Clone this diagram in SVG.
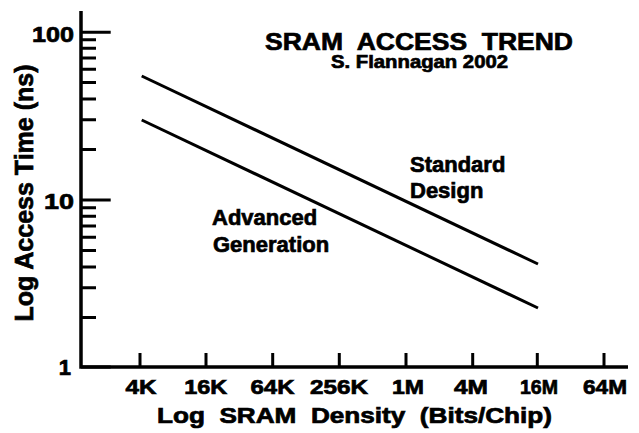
<svg xmlns="http://www.w3.org/2000/svg" width="639" height="433" viewBox="0 0 639 433">
<style>
text{font-family:"Liberation Sans",Arial,sans-serif;font-weight:bold;fill:#000;stroke:#000;stroke-width:0.7}
.ax{stroke:#000;stroke-width:3.5;fill:none}
.tk{stroke:#000;stroke-width:3;fill:none}
.ln{stroke:#000;stroke-width:3;fill:none}
.tl{font-size:20px;text-anchor:middle}
.yl{font-size:22px;text-anchor:end}
</style>
<rect width="639" height="433" fill="#fff"/>
<g id="axes">
<path class="ax" d="M81,11 V367 H628"/>
</g>
<g id="y-ticks">
<path class="tk" d="M81,32.3H110.7 M81,200H110.7 M81,367H110.7"/>
<path class="tk" d="M81,39.7H96 M81,48.3H96 M81,58H96 M81,69.3H96 M81,82.6H96 M81,98.9H96 M81,119.8H96 M81,149.4H96"/>
<path class="tk" d="M81,207.7H96 M81,216.3H96 M81,226H96 M81,237.3H96 M81,250.6H96 M81,266.9H96 M81,287.8H96 M81,317.4H96"/>
</g>
<g id="y-labels">
<text class="yl" x="74" y="42" textLength="42" lengthAdjust="spacingAndGlyphs">100</text>
<text class="yl" x="74" y="209" textLength="30" lengthAdjust="spacingAndGlyphs">10</text>
<text class="yl" x="71" y="375">1</text>
</g>
<g id="x-ticks">
<path class="tk" d="M140,353V367 M206,353V367 M272.7,353V367 M339.3,353V367 M406,353V367 M472.7,353V367 M537.3,353V367 M604,353V367"/>
</g>
<g id="x-labels">
<text class="tl" x="141" y="394" textLength="31" lengthAdjust="spacingAndGlyphs">4K</text>
<text class="tl" x="205.7" y="394" textLength="43" lengthAdjust="spacingAndGlyphs">16K</text>
<text class="tl" x="272.5" y="394" textLength="44" lengthAdjust="spacingAndGlyphs">64K</text>
<text class="tl" x="339" y="394" textLength="58" lengthAdjust="spacingAndGlyphs">256K</text>
<text class="tl" x="408" y="394" textLength="32" lengthAdjust="spacingAndGlyphs">1M</text>
<text class="tl" x="471" y="394" textLength="34" lengthAdjust="spacingAndGlyphs">4M</text>
<text class="tl" x="539" y="394" textLength="38" lengthAdjust="spacingAndGlyphs">16M</text>
<text class="tl" x="605" y="394" textLength="44" lengthAdjust="spacingAndGlyphs">64M</text>
</g>
<g id="x-title">
<text x="157" y="423" font-size="22" textLength="395" lengthAdjust="spacingAndGlyphs" xml:space="preserve">Log  SRAM  Density  (Bits/Chip)</text>
</g>
<g id="y-title">
<text transform="translate(33,193) rotate(-90)" font-size="25" text-anchor="middle">Log Access Time (ns)</text>
</g>
<g id="title">
<text x="265" y="50" font-size="24" textLength="308" lengthAdjust="spacingAndGlyphs" xml:space="preserve">SRAM  ACCESS  TREND</text>
<text x="331" y="68" font-size="18.5" textLength="177" lengthAdjust="spacingAndGlyphs">S. Flannagan 2002</text>
</g>
<g id="connectors">
<line id="standard-line" class="ln" x1="141.7" y1="76" x2="538" y2="264"/>
<line id="advanced-line" class="ln" x1="141.7" y1="120" x2="538" y2="308"/>
</g>
<g id="standard-label">
<text x="410" y="172" font-size="22">Standard</text>
<text x="410" y="198" font-size="22">Design</text>
</g>
<g id="advanced-label">
<text x="212" y="225" font-size="22">Advanced</text>
<text x="213" y="252" font-size="22">Generation</text>
</g>
</svg>
